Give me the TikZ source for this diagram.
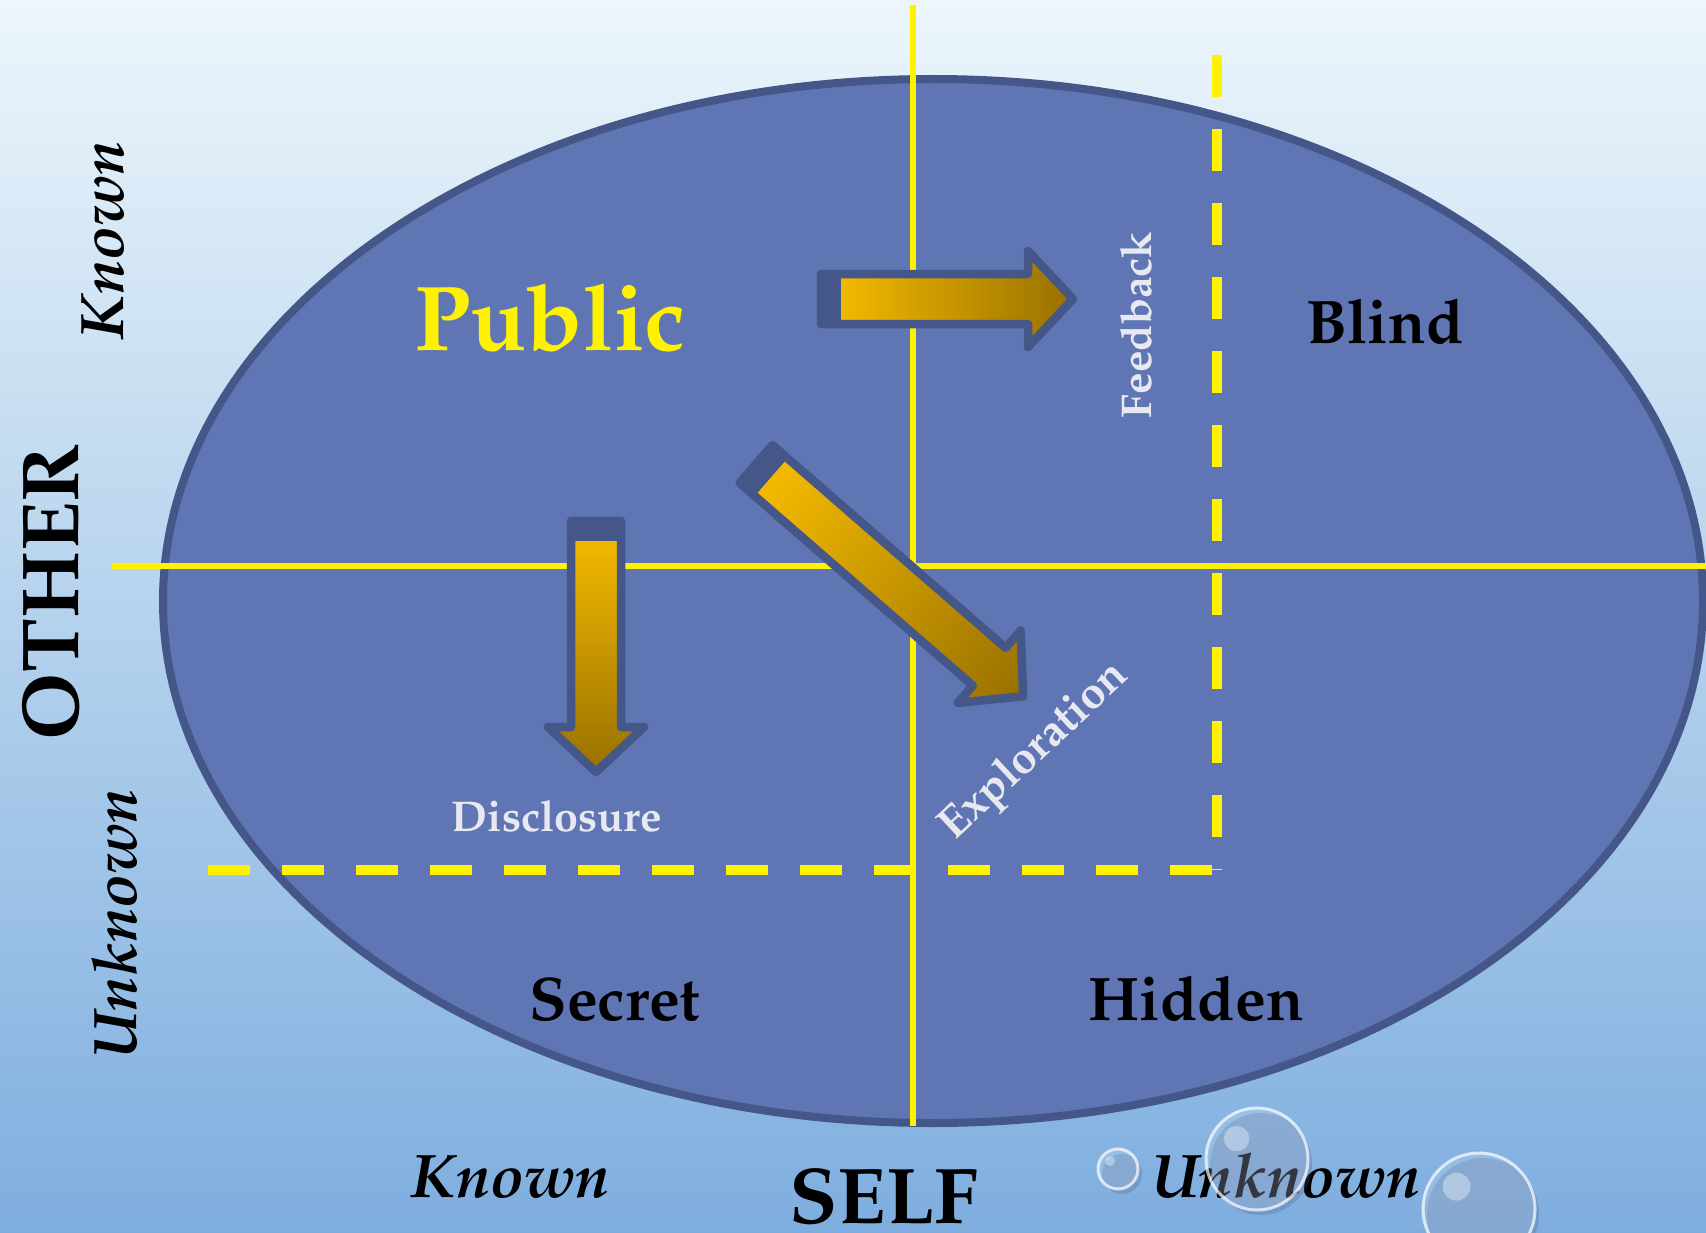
\documentclass[tikz,border=0pt]{standalone}
\usepackage[T1]{fontenc}
\usepackage{mathpazo}
\usepackage{tikz}

\definecolor{bgtop}{RGB}{236,246,251}
\definecolor{bgmid}{RGB}{192,219,240}
\definecolor{bgbot}{RGB}{126,174,223}
\definecolor{ovalfill}{RGB}{96,118,180}
\definecolor{ovalrim}{RGB}{68,87,136}
\definecolor{goldA}{RGB}{249,190,0}
\definecolor{goldB}{RGB}{152,112,0}
\definecolor{labelwhite}{RGB}{232,232,240}

% block arrow: tail point, angle, length (pixel units)
\newcommand{\goldarrow}[3]{%
  \begin{scope}[transform canvas={shift={#1}, rotate=#2}]
    \path[draw=ovalrim, line width=0.17cm, line join=round, left color=goldA, right color=goldB]
      (0,-25) -- ({#3-45},-25) -- ({#3-45},-48) -- (#3,0) -- ({#3-45},48) -- ({#3-45},25) -- (0,25) -- cycle;
    \fill[ovalrim] (0,-25) rectangle (20,25);
  \end{scope}}

\tikzset{
  quadrant/.style={font=\fontsize{35}{40}\selectfont\bfseries, text=black, anchor=base},
  axisword/.style={font=\fontsize{35}{40}\selectfont\bfseries\itshape, text=black, anchor=base},
  axistitle/.style={font=\fontsize{45}{50}\selectfont\bfseries, text=black, anchor=base},
  movelabel/.style={font=\fontsize{24.5}{28}\selectfont\bfseries, text=labelwhite, anchor=base},
  axisline/.style={yellow, line width=0.12cm},
  windowline/.style={yellow, line width=0.2cm, dash pattern=on 0.84cm off 0.64cm},
  bubble/.style={fill=white, fill opacity=0.15, draw=white, draw opacity=0.7, line width=0.06cm}
}

\begin{document}
\begin{tikzpicture}[x=0.02cm, y=-0.02cm]
    \useasboundingbox (0,0) rectangle (1706,1233);
    \shade[top color=bgtop, middle color=bgmid, bottom color=bgbot] (0,0) rectangle (1706,1233);

    % the window
    \path[fill=ovalfill, draw=ovalrim, line width=0.16cm] (933,601) ellipse [x radius=770, y radius=522];
    \draw[axisline] (913,5) -- (913,1126);
    \draw[axisline] (112,566) -- (1706,566);
    \draw[windowline] (1217,55) -- (1217,870);
    \draw[windowline] (208,870) -- (1216,870);

    % moves
    \goldarrow{(821,299)}{0}{252}
    \goldarrow{(596,521)}{-90}{251}
    \goldarrow{(756,464)}{-41}{354}

    % quadrants
    \node[quadrant, text=yellow, font=\fontsize{52.5}{60}\selectfont\bfseries] (public) at (550,350) {Public};
    \node[quadrant] (blind) at (1385,343) {Blind};
    \node[quadrant] (secret) at (615,1020) {Secret};
    \node[quadrant] (hidden) at (1196,1020) {Hidden};

    \node[movelabel, rotate=90] (feedback) at (1151,325) {Feedback};
    \node[movelabel] (disclosure) at (557,831) {Disclosure};
    \node[movelabel, anchor=center, rotate=43, font=\fontsize{25.5}{28}\selectfont\bfseries] (exploration) at (1035,752) {Exploration};

    % axes
    \node[axistitle, font=\fontsize{46}{50}\selectfont\bfseries, rotate=90] (other) at (78,592) {OTHER};
    \node[axisword, rotate=90] (otherknown) at (123,240) {Known};
    \node[axisword, rotate=90] (otherunknown) at (136,924) {Unknown};
    \node[axistitle] (self) at (884,1223) {SELF};
    \node[axisword] (selfknown) at (511,1197) {Known};
    \node[axisword] (selfunknown) at (1286,1197) {Unknown};

    % drops
    \foreach \cx/\cy/\r in {1118/1169/20, 1257/1159/51, 1479/1209/56} {
        \fill[ovalrim, opacity=0.25] (\cx+4,\cy+5) circle [radius=\r];
        \path[bubble] (\cx,\cy) circle [radius=\r];
        \fill[white, opacity=0.35] (\cx-0.4*\r,\cy-0.4*\r) circle [radius=0.25*\r];
    }
\end{tikzpicture}
\end{document}
